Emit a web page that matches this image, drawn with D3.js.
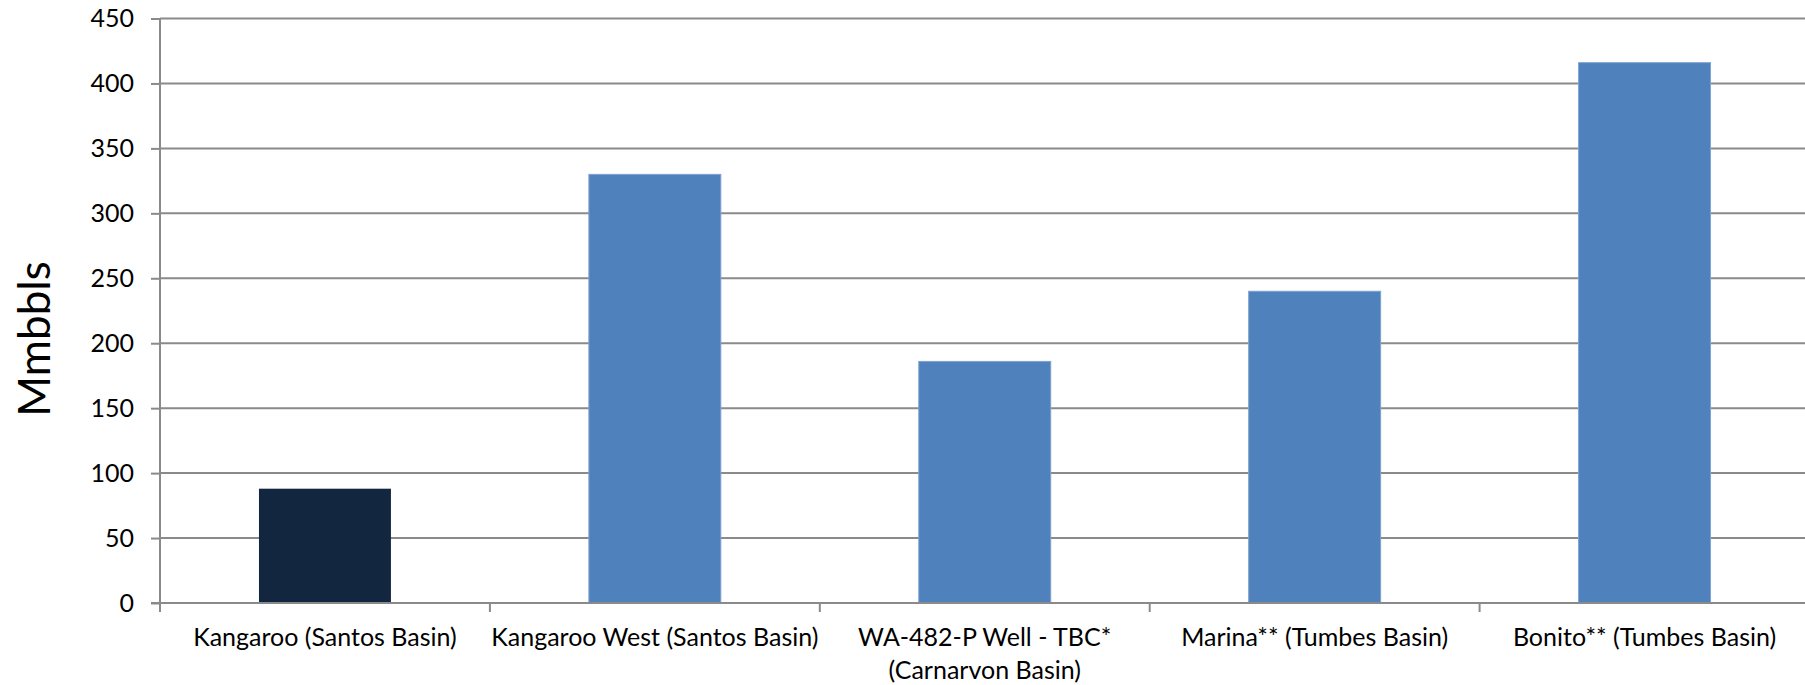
<!DOCTYPE html>
<html>
<head>
<meta charset="utf-8">
<script src="https://cdn.jsdelivr.net/npm/d3@7"></script>
<style>
  html, body { margin: 0; padding: 0; background: #ffffff; overflow: hidden; }
  svg { display: block; }
  text { font-family: Lato, "Open Sans", sans-serif; fill: #000; }
</style>
</head>
<body>
<svg id="chart" width="1805" height="685"></svg>
<script>
// Prospect sizes in Mmbbls
const categories = [
  ["Kangaroo (Santos Basin)"],
  ["Kangaroo West (Santos Basin)"],
  ["WA-482-P Well - TBC*", "(Carnarvon Basin)"],
  ["Marina** (Tumbes Basin)"],
  ["Bonito** (Tumbes Basin)"]
];
const values = [88, 330, 186, 240, 416];
const barColors = ["#132640", "#4f81bd", "#4f81bd", "#4f81bd", "#4f81bd"];
const yTicks = [0, 50, 100, 150, 200, 250, 300, 350, 400, 450];
const yTitle = "Mmbbls";

const svg = d3.select("#chart");
const margin = { left: 160, top: 18.5, bottom: 603, right: 1809.5 };
const gridColor = "#8a8a8a";

const x = d3.scaleBand()
  .domain(d3.range(categories.length))
  .range([margin.left, margin.right])
  .paddingInner(0.6)
  .paddingOuter(0.3);

const y = d3.scaleLinear()
  .domain([0, 450])
  .range([margin.bottom, margin.top]);

// horizontal gridlines
svg.append("g")
  .selectAll("line")
  .data(yTicks.filter(d => d > 0))
  .join("line")
  .attr("x1", margin.left)
  .attr("x2", margin.right)
  .attr("y1", d => y(d))
  .attr("y2", d => y(d))
  .attr("stroke", gridColor)
  .attr("stroke-width", 2);

// bars
svg.append("g")
  .selectAll("rect")
  .data(values)
  .join("rect")
  .attr("x", (d, i) => x(i))
  .attr("width", x.bandwidth())
  .attr("y", d => y(d))
  .attr("height", d => y(0) - y(d))
  .attr("fill", (d, i) => barColors[i])
  .attr("stroke", (d, i) => i === 0 ? "none" : "#7fa3d0")
  .attr("stroke-width", 1);

// y axis
const yAxis = d3.axisLeft(y)
  .tickValues(yTicks)
  .tickSize(9)
  .tickPadding(17);
const gy = svg.append("g")
  .attr("transform", `translate(${margin.left},0)`)
  .call(yAxis);
gy.select(".domain").remove();
gy.selectAll(".tick line").attr("stroke", gridColor).attr("stroke-width", 2);
gy.selectAll(".tick text")
  .attr("font-size", 25)
  .attr("font-family", "Lato, 'Open Sans', sans-serif")
  .attr("fill", "#000");
gy.append("line")
  .attr("x1", 0).attr("x2", 0)
  .attr("y1", margin.top).attr("y2", margin.bottom + 9)
  .attr("stroke", gridColor).attr("stroke-width", 2);

// x axis baseline with category separators
const boundaries = d3.range(categories.length + 1).map(i => margin.left + i * x.step());
const gx = svg.append("g");
gx.append("line")
  .attr("x1", margin.left - 9).attr("x2", margin.right)
  .attr("y1", y(0)).attr("y2", y(0))
  .attr("stroke", gridColor).attr("stroke-width", 2);
gx.selectAll("line.sep")
  .data(boundaries)
  .join("line")
  .attr("class", "sep")
  .attr("x1", d => d).attr("x2", d => d)
  .attr("y1", y(0)).attr("y2", y(0) + 9)
  .attr("stroke", gridColor).attr("stroke-width", 2);

// category labels
const labels = svg.append("g")
  .selectAll("text")
  .data(categories)
  .join("text")
  .attr("text-anchor", "middle")
  .attr("font-size", 25)
  .attr("x", (d, i) => x(i) + x.bandwidth() / 2)
  .attr("y", 646);
labels.selectAll("tspan")
  .data(d => d)
  .join("tspan")
  .attr("x", function () { return d3.select(this.parentNode).attr("x"); })
  .attr("dy", (d, i) => i === 0 ? 0 : 33)
  .text(d => d);

// y axis title
svg.append("text")
  .attr("transform", "translate(50,339) rotate(-90)")
  .attr("text-anchor", "middle")
  .attr("font-size", 44)
  .text(yTitle);
</script>
</body>
</html>
